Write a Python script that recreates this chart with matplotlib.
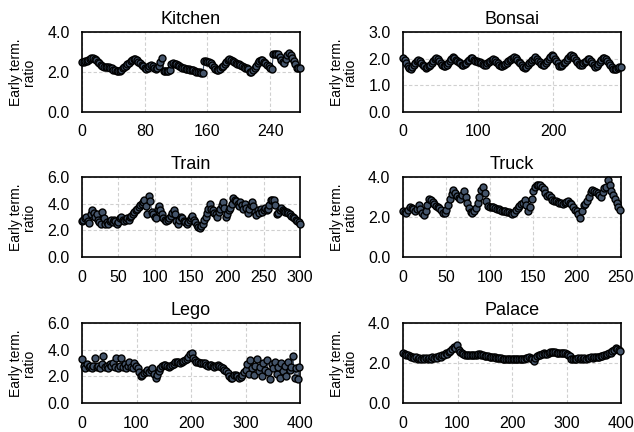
import numpy as np
import matplotlib
matplotlib.use("Agg")
import matplotlib.pyplot as plt

plt.rcParams['font.family'] = ['Liberation Sans', 'DejaVu Sans']

# values, one point every `step` iterations
kitchen_step = 2
kitchen = [2.48, 2.50, 2.53, 2.56, 2.60, 2.64, 2.68, 2.70, 2.66, 2.60, 2.52, 2.45,
           2.37, 2.30, 2.27, 2.26, 2.25, 2.24, 2.22, 2.18, 2.12, 2.08, 2.04, 2.03,
           2.06, 2.12, 2.18, 2.25, 2.32, 2.40, 2.47, 2.55, 2.62, 2.65, 2.63, 2.60,
           2.52, 2.44, 2.36, 2.28, 2.21, 2.17, 2.22, 2.30, 2.35, 2.30, 2.22, 2.16,
           2.18, 2.30, 2.48, 2.68, 2.07, 2.06, 2.07, 2.07, 2.08, 2.42, 2.43, 2.40,
           2.38, 2.34, 2.30, 2.26, 2.22, 2.18, 2.16, 2.14, 2.13, 2.12, 2.11, 2.08,
           2.05, 2.02, 2.00, 1.98, 1.96, 1.95, 2.55, 2.55, 2.52, 2.48, 2.43, 2.35,
           2.25, 2.15, 2.10, 2.08, 2.15, 2.24, 2.32, 2.42, 2.52, 2.60, 2.65, 2.60,
           2.55, 2.50, 2.45, 2.42, 2.38, 2.34, 2.28, 2.24, 2.20, 2.18, 2.14, 2.00,
           1.98, 2.08, 2.20, 2.32, 2.45, 2.55, 2.62, 2.58, 2.52, 2.44, 2.36, 2.28,
           2.20, 2.13, 2.88, 2.92, 2.92, 2.88, 2.75, 2.60, 2.50, 2.45, 2.65, 2.85,
           2.95, 2.85, 2.70, 2.55, 2.38, 2.22, 2.18, 2.18]

bonsai_step = 2
bonsai = [2.03, 1.94, 1.84, 1.74, 1.65, 1.63, 1.70, 1.78, 1.85, 1.92, 1.95, 1.90,
          1.84, 1.77, 1.71, 1.66, 1.67, 1.72, 1.78, 1.84, 1.91, 1.97, 2.03, 1.99,
          1.92, 1.85, 1.78, 1.72, 1.71, 1.77, 1.84, 1.91, 1.98, 2.05, 2.01, 1.96,
          1.92, 1.87, 1.83, 1.78, 1.75, 1.80, 1.85, 1.91, 1.96, 2.01, 2.01, 1.96,
          1.92, 1.90, 1.89, 1.88, 1.84, 1.80, 1.76, 1.77, 1.82, 1.86, 1.91, 1.96,
          2.00, 1.95, 1.89, 1.83, 1.76, 1.71, 1.72, 1.76, 1.80, 1.85, 1.90, 1.94,
          1.99, 2.04, 2.06, 2.02, 1.96, 1.89, 1.82, 1.75, 1.69, 1.65, 1.70, 1.76,
          1.82, 1.88, 1.94, 2.00, 2.05, 1.99, 1.93, 1.86, 1.80, 1.76, 1.78, 1.84,
          1.91, 1.98, 2.06, 2.14, 2.09, 2.00, 1.91, 1.83, 1.74, 1.71, 1.76, 1.82,
          1.88, 1.95, 2.02, 2.09, 2.15, 2.10, 2.02, 1.94, 1.87, 1.80, 1.75, 1.78,
          1.83, 1.88, 1.93, 1.98, 1.97, 1.90, 1.83, 1.76, 1.70, 1.74, 1.81, 1.88,
          1.94, 2.01, 2.04, 1.98, 1.90, 1.83, 1.76, 1.68, 1.61, 1.60, 1.62, 1.65,
          1.68, 1.70]

train_step = 2
train = [2.7, 2.75, 2.9, 3.0, 2.7, 2.55, 3.2, 3.5, 3.3, 3.0, 3.2, 2.8, 2.6, 2.5,
         3.35, 2.9, 2.5, 2.6, 2.45, 2.7, 2.75, 2.6, 2.8, 2.7, 2.5, 2.65, 2.9, 3.0,
         2.75, 2.7, 2.8, 2.9, 2.8, 3.0, 3.1, 3.2, 3.35, 3.5, 3.6, 3.75, 3.9, 4.0,
         4.15, 4.25, 3.8, 3.2, 4.6, 4.2, 3.4, 3.2, 3.0, 2.9, 3.6, 3.8, 3.5, 3.2,
         2.95, 2.8, 2.7, 2.75, 2.9, 3.1, 3.3, 3.55, 3.2, 2.7, 2.5, 2.8, 3.0, 2.9,
         2.7, 2.6, 2.45, 2.6, 2.8, 2.9, 3.05, 2.8, 2.6, 2.4, 2.25, 2.2, 2.3, 2.5,
         2.8, 3.0, 3.3, 3.6, 3.95, 3.6, 3.5, 3.3, 3.2, 3.0, 3.4, 3.6, 3.9, 4.15,
         3.7, 3.0, 3.2, 3.5, 3.7, 4.0, 4.45, 4.3, 4.2, 4.0, 3.8, 4.1, 3.9, 3.6,
         4.0, 3.7, 3.3, 3.6, 3.9, 4.1, 3.8, 3.4, 3.15, 3.5, 3.3, 3.6, 3.4, 3.5,
         3.7, 3.5, 3.6, 3.9, 4.3, 4.25, 4.3, 3.9, 3.2, 3.3, 3.5, 3.7, 3.55, 3.45,
         3.4, 3.35, 3.3, 3.2, 3.1, 3.0, 2.9, 2.8, 2.7, 2.6, 2.5]

truck_step = 2
truck = [2.3, 2.25, 2.2, 2.35, 2.5, 2.45, 2.4, 2.3, 2.4, 2.58, 2.4, 2.2, 2.08,
         2.3, 2.6, 2.9, 2.85, 2.75, 2.65, 2.55, 2.5, 2.45, 2.35, 2.22, 2.18, 2.35,
         2.6, 2.9, 3.15, 3.33, 3.2, 3.05, 2.95, 2.9, 3.1, 3.3, 3.0, 2.7, 2.45,
         2.25, 2.2, 2.3, 2.45, 2.7, 3.0, 3.35, 3.5, 3.2, 2.8, 2.55, 2.5, 2.5,
         2.48, 2.45, 2.4, 2.38, 2.35, 2.3, 2.3, 2.28, 2.27, 2.25, 2.2, 2.15, 2.2,
         2.35, 2.45, 2.55, 2.65, 2.7, 2.83, 2.6, 2.3, 2.5, 2.9, 3.3, 3.5, 3.6,
         3.62, 3.6, 3.5, 3.4, 3.2, 3.05, 3.1, 3.0, 2.85, 2.8, 2.8, 2.75, 2.72,
         2.68, 2.65, 2.7, 2.75, 2.78, 2.72, 2.65, 2.5, 2.35, 2.3, 2.15, 1.97, 2.3,
         2.6, 2.65, 2.8, 3.0, 3.25, 3.37, 3.3, 3.25, 3.2, 3.1, 3.0, 3.25, 3.45,
         3.5, 3.87, 3.6, 3.3, 3.1, 2.9, 2.7, 2.5, 2.35]

lego_step = 3
lego = [3.3, 2.8, 2.6, 2.9, 2.7, 2.8, 2.6, 2.75, 3.4, 2.7, 2.8, 2.6, 2.9, 3.5,
        2.7, 2.8, 2.6, 2.9, 2.75, 3.0, 2.7, 3.4, 2.6, 2.8, 3.4, 2.7, 2.9, 2.6,
        2.8, 3.1, 2.7, 2.6, 3.0, 2.75,
        2.6, 2.3, 2.0, 2.1, 2.25, 2.3, 2.5, 2.35, 2.45, 2.6, 2.2, 1.85, 2.1, 2.4,
        2.6, 2.75, 2.85, 2.82, 2.75, 2.7, 2.75, 2.85, 2.95, 3.05, 3.1, 3.05, 3.0,
        3.05, 3.15, 3.2, 3.3, 3.45, 3.7, 3.75, 3.4, 3.2, 3.1, 3.05, 3.0, 3.0,
        3.02, 2.98, 2.85, 2.8, 2.88, 2.85, 2.78, 2.72, 2.75, 2.82, 2.8, 2.72,
        2.6, 2.5, 2.4, 2.25, 2.05, 1.9, 1.85, 2.1, 2.1, 2.0, 1.9, 1.95, 2.1,
        2.3, 2.5,
        2.9, 2.2, 3.2, 2.6, 2.1, 2.8, 3.3, 2.4, 2.7, 2.0, 3.0, 2.5, 3.2, 2.3,
        1.8, 2.9, 2.6, 3.1, 2.2, 2.7, 1.9, 3.0, 2.4, 2.8, 2.0, 3.1, 2.5, 2.7,
        3.5, 1.9, 2.6, 1.8, 2.7]

palace_step = 3
palace = [2.5, 2.45, 2.42, 2.38, 2.33, 2.3, 2.28, 2.25, 2.3, 2.22, 2.25, 2.2,
          2.24, 2.2, 2.25, 2.21, 2.26, 2.22, 2.28, 2.25, 2.3, 2.27, 2.35, 2.32,
          2.4, 2.38, 2.48, 2.45, 2.55, 2.6, 2.72, 2.8, 2.75, 2.9, 2.65, 2.55,
          2.5, 2.45, 2.42, 2.4, 2.4, 2.38, 2.38, 2.38, 2.4, 2.42, 2.45, 2.45,
          2.42, 2.38, 2.35, 2.34, 2.33, 2.32, 2.3, 2.29, 2.28, 2.27, 2.26, 2.25,
          2.24, 2.22, 2.21, 2.2, 2.19, 2.18, 2.18, 2.18, 2.18, 2.19, 2.2, 2.2,
          2.21, 2.22, 2.22, 2.24, 2.26, 2.3, 2.25, 2.2, 2.12, 2.25, 2.35, 2.4,
          2.42, 2.45, 2.48, 2.45, 2.47, 2.5, 2.53, 2.55, 2.55, 2.53, 2.5, 2.49,
          2.48, 2.48, 2.49, 2.5, 2.46, 2.42, 2.35, 2.22, 2.18, 2.22, 2.19, 2.23,
          2.2, 2.24, 2.21, 2.25, 2.22, 2.26, 2.24, 2.28, 2.25, 2.3, 2.28, 2.32,
          2.3, 2.35, 2.33, 2.4, 2.38, 2.45, 2.5, 2.48, 2.6, 2.65, 2.75, 2.7,
          2.65, 2.62]

panels = [
    ("Kitchen", kitchen, kitchen_step, 278, [0, 80, 160, 240], 4, [0, 2, 4]),
    ("Bonsai", bonsai, bonsai_step, 290, [0, 100, 200], 3, [0, 1, 2, 3]),
    ("Train", train, train_step, 300, [0, 50, 100, 150, 200, 250, 300], 6, [0, 2, 4, 6]),
    ("Truck", truck, truck_step, 251, [0, 50, 100, 150, 200, 250], 4, [0, 2, 4]),
    ("Lego", lego, lego_step, 400, [0, 100, 200, 300, 400], 6, [0, 2, 4, 6]),
    ("Palace", palace, palace_step, 400, [0, 100, 200, 300, 400], 4, [0, 2, 4]),
]

W, H = 634, 432
fig = plt.figure(figsize=(W / 100, H / 100), dpi=100)

lefts = [82, 403]
tops = [32, 177, 323]
aw, ah = 218, 80

fill = "#44546A"

for i, (name, vals, step, xmax, xt, ymax, yt) in enumerate(panels):
    r, c = divmod(i, 2)
    ax = fig.add_axes([lefts[c] / W, 1 - (tops[r] + ah) / H, aw / W, ah / H])
    x = step * np.arange(len(vals))
    ax.plot(x, vals, '-', color=fill, lw=0.8, marker='o', ms=5,
            mfc=fill, mec='black', mew=1.0, zorder=3, clip_on=False)
    ax.set_xlim(0, xmax)
    ax.set_ylim(0, ymax)
    ax.set_xticks(xt)
    ax.set_yticks(yt)
    ax.set_yticklabels([f"{v:.1f}" for v in yt])
    ax.grid(True, color="#D0D0D0", ls=(0, (3, 2)), lw=0.8)
    ax.set_axisbelow(True)
    ax.tick_params(length=0, labelsize=11.5, colors='black')
    ax.tick_params(axis='y', pad=9)
    ax.tick_params(axis='x', pad=9)
    for s in ax.spines.values():
        s.set_linewidth(1.2)
        s.set_color('black')
    ax.set_title(name, fontsize=13, pad=6)
    ax.set_ylabel("Early term.\nratio", fontsize=10, linespacing=0.95, labelpad=8)

fig.savefig("out.png", dpi=100)
